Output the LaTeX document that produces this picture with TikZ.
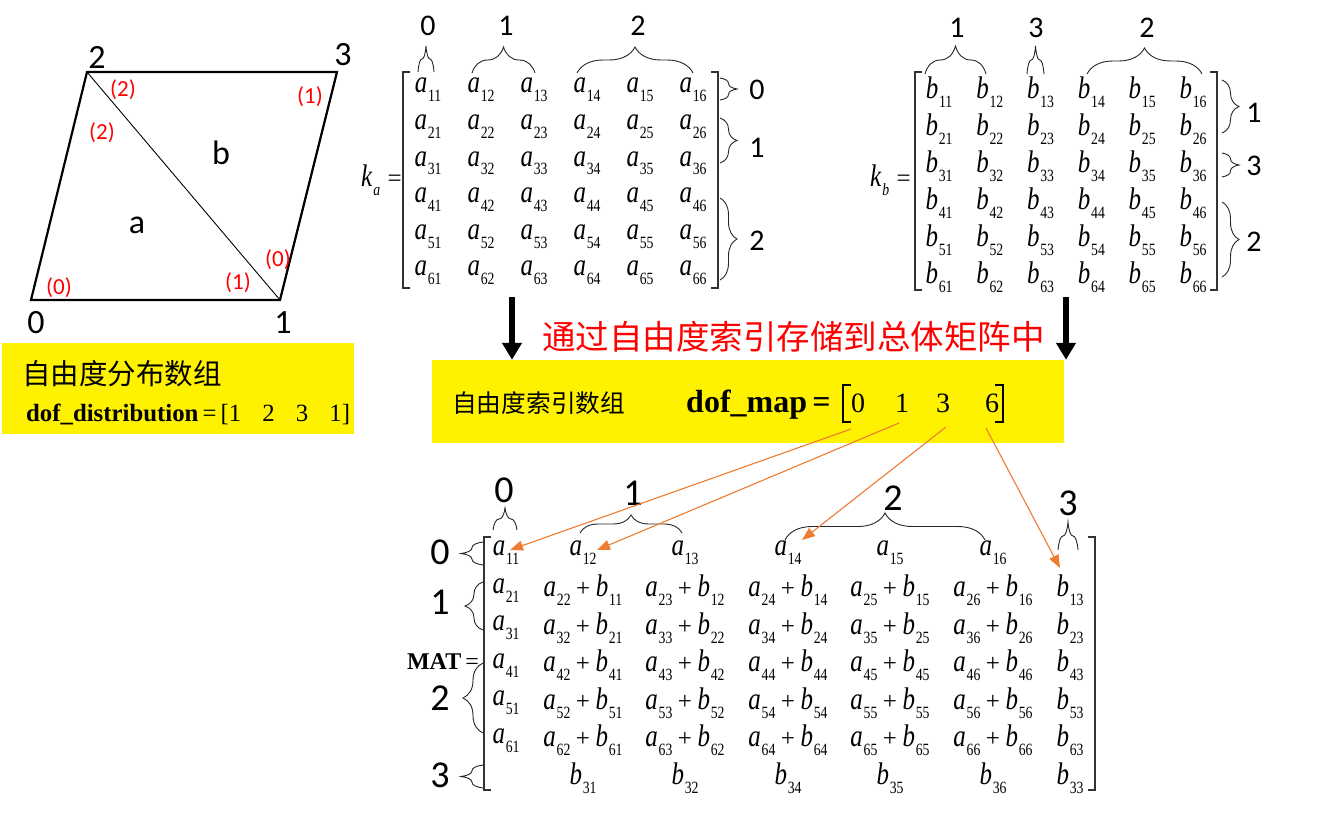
\documentclass[tikz,border=0pt]{standalone}
\usepackage{fontspec}
\setmainfont{Liberation Serif}
\newfontfamily\cjk{Noto Sans CJK SC}
\newfontfamily\calib{Carlito}
\usepackage{graphicx}
\usetikzlibrary{arrows.meta,decorations.pathreplacing,calc}
\definecolor{orng}{RGB}{237,125,49}
\newcommand{\el}[2]{\scalebox{1}[1.25]{\textit{#1}\kern0.03em\raisebox{-0.28em}{\scalebox{0.55}{#2}}}}
\newcommand{\es}[4]{\el{#1}{#2}\hspace{0.22em}+\hspace{0.22em}\el{#3}{#4}}

\begin{document}
\begin{tikzpicture}[x=1pt, y=-1pt,
edge/.style={line width=2.2pt, line join=miter},
diag/.style={line width=0.9pt},
vlbl/.style={font=\calib\fontsize{34}{36}\selectfont, inner sep=0},
rlbl/.style={font=\calib\fontsize{23}{26}\selectfont, text=red, inner sep=0},
klbl/.style={font=\calib\fontsize{30}{32}\selectfont, inner sep=0},
mlbl/.style={font=\calib\fontsize{38}{40}\selectfont, inner sep=0},
entry/.style={font=\fontsize{25}{30}\selectfont, inner sep=0},
mbrk/.style={line width=1.3pt, draw=black!80},
curly/.style={decorate, decoration={brace, amplitude=#1}, line width=0.9pt, draw=black!85},
ybox/.style={fill=yellow, inner sep=0},
bigarrow/.style={line width=6pt, -{Triangle[length=17pt,width=19pt]}},
oarr/.style={draw=orng, line width=1.1pt, -{Triangle[length=13pt,width=10pt]}, fill=orng},
]
\useasboundingbox (0,0) rectangle (1317,819);

\coordinate (p0) at (31,300);
\coordinate (p1) at (280,300);
\coordinate (p2) at (87,72);
\coordinate (p3) at (337,72);
\draw[edge] (p0) -- (p1) -- (p3) -- (p2) -- cycle;
\draw[diag] (p2) -- (p1);
\node[vlbl] (v0) at (36,323) {0};
\node[vlbl] (v1) at (283,323) {1};
\node[vlbl] (v2) at (97,57) {2};
\node[vlbl] (v3) at (343,55) {3};
\node[font=\calib\fontsize{34}{36}\selectfont, inner sep=0] (ela) at (137,225) {a};
\node[font=\calib\fontsize{34}{36}\selectfont, inner sep=0] (elb) at (221,153) {b};
\node[rlbl] (ra0) at (59,288) {(0)};
\node[rlbl] (ra1) at (238,283) {(1)};
\node[rlbl] (ra2) at (102,133) {(2)};
\node[rlbl] (rb0) at (278,260) {(0)};
\node[rlbl] (rb1) at (310,97) {(1)};
\node[rlbl] (rb2) at (123,90) {(2)};

\node[ybox, minimum width=352pt, minimum height=91pt] (distbox) at (178,388.5) {};
\node[anchor=west, inner sep=0, font=\cjk\fontsize{28.5}{30}\selectfont] (distcn) at (22,374) {自由度分布数组};
\node[anchor=base west, inner sep=0, font=\fontsize{24.8}{28}\selectfont] (distval) at (26,421)
  {\textbf{dof\_distribution}\,=\,[1\hspace{0.85em}2\hspace{0.85em}3\hspace{0.85em}1]};

\node[entry, anchor=east] (kalbl) at (402,180) {\el{k}{\textit{a}}\hspace{0.3em}=};
\foreach \ri in {1,...,6}
  \foreach \ci in {1,...,6}
    \node[entry] (a-\ri-\ci) at ({428+53*(\ci-1)},{90+36.6*(\ri-1)}) {\el{a}{\ri\ci}};
\draw[mbrk] (410,72) -- (403,72) -- (403,288) -- (410,288);
\draw[mbrk] (711,72) -- (718,72) -- (718,288) -- (711,288);
\draw[curly=26] (418,72) -- (434,72);
\draw[curly=26] (472,73) -- (535,73);
\draw[curly=26] (577,73) -- (693,73);
\node[klbl] (kat0) at (428,26) {0};
\node[klbl] (kat1) at (506,26) {1};
\node[klbl] (kat2) at (638,26) {2};
\draw[curly=17] (720,78) -- (720,100);
\draw[curly=17] (720,118) -- (720,163);
\draw[curly=17] (720,198) -- (720,280);
\node[klbl] (kar0) at (757,90) {0};
\node[klbl] (kar1) at (757,148) {1};
\node[klbl] (kar2) at (757,241) {2};

\node[entry, anchor=east] (kblbl) at (911,180) {\el{k}{\textit{b}}\hspace{0.3em}=};
\foreach \ri in {1,...,6}
  \foreach \ci in {1,...,6}
    \node[entry] (b-\ri-\ci) at ({939+50.8*(\ci-1)},{92+37*(\ri-1)}) {\el{b}{\ri\ci}};
\draw[mbrk] (922,72) -- (915,72) -- (915,290) -- (922,290);
\draw[mbrk] (1210,72) -- (1217,72) -- (1217,290) -- (1210,290);
\draw[curly=28] (925,74) -- (986,74);
\draw[curly=28] (1027,74) -- (1044,74);
\draw[curly=26] (1087,74) -- (1202,74);
\node[klbl] (kbt1) at (957,28) {1};
\node[klbl] (kbt3) at (1036,28) {3};
\node[klbl] (kbt2) at (1147,28) {2};
\draw[curly=17] (1222,80) -- (1222,133);
\draw[curly=17] (1222,153) -- (1222,177);
\draw[curly=17] (1222,202) -- (1222,277);
\node[klbl] (kbr1) at (1254,113) {1};
\node[klbl] (kbr3) at (1254,166) {3};
\node[klbl] (kbr2) at (1254,242) {2};

\node[font=\cjk\fontsize{33.5}{36}\selectfont, text=red, inner sep=0] (note) at (793.5,337) {通过自由度索引存储到总体矩阵中};
\node[ybox, minimum width=632pt, minimum height=83pt] (mapbox) at (748,401.5) {};
\coordinate (kaout) at (512,297);
\coordinate (kbout) at (1066,297);
\draw[bigarrow] (kaout) -- (kaout |- mapbox.north);
\draw[bigarrow] (kbout) -- (kbout |- mapbox.north);
\node[anchor=west, inner sep=0, font=\cjk\fontsize{24.7}{28}\selectfont] (mapcn) at (452,403) {自由度索引数组};
\node[anchor=base west, inner sep=0, font=\bfseries\fontsize{32}{36}\selectfont] (mapname) at (686,412) {dof\_map\,=};
\foreach \d/\x in {0/858,1/902,3/943,6/992}
  \node[anchor=base, inner sep=0, font=\fontsize{28}{30}\selectfont] (d\d) at (\x,412) {\d};
\draw[line width=1.8pt] (851,385) -- (843,385) -- (843,422) -- (851,422);
\draw[line width=1.8pt] (995,385) -- (1003,385) -- (1003,422) -- (995,422);

\node[anchor=east, inner sep=0, font=\fontsize{24}{28}\selectfont] (matlbl) at (479,662) {\textbf{MAT}\,=};
\foreach \ci/\x in {1/506,2/583,3/685,4/788,5/890,6/993}
  \node[entry] (m-1-\ci) at (\x,553) {\el{a}{1\ci}};
\foreach \ri/\br in {2/1,3/2,4/4,5/5,6/6} {
  \node[entry] (m-\ri-1) at (506,{553+37.5*(\ri-1)}) {\el{a}{\ri1}};
  \foreach \ci/\bc/\x in {2/1/583,3/2/685,4/4/788,5/5/890,6/6/993}
    \node[entry] (m-\ri-\ci) at (\x,{553+37.5*(\ri-1)}) {\es{a}{\ri\ci}{b}{\br\bc}};
  \node[entry] (m-\ri-7) at (1070,{553+37.5*(\ri-1)}) {\el{b}{\br3}};
}
\foreach \ci/\bc/\x in {2/1/583,3/2/685,4/4/788,5/5/890,6/6/993,7/3/1070}
  \node[entry] (m-7-\ci) at (\x,778) {\el{b}{3\bc}};
\draw[mbrk] (491,537) -- (484,537) -- (484,790) -- (491,790);
\draw[mbrk] (1088,537) -- (1095,537) -- (1095,790) -- (1088,790);
\draw[curly=22] (493,530) -- (517,530);
\draw[curly=18] (580,533) -- (682,533);
\draw[curly=27] (785,540) -- (985,540);
\draw[curly=28] (1058,550) -- (1078,550);
\node[mlbl] (mt0) at (504,490) {0};
\node[mlbl] (mt1) at (633,493) {1};
\node[mlbl] (mt2) at (893,498) {2};
\node[mlbl] (mt3) at (1068,503) {3};
\draw[curly=22] (483,565) -- (483,542);
\draw[curly=18] (483,630) -- (483,582);
\draw[curly=20] (483,733) -- (483,663);
\draw[curly=22] (483,788) -- (483,765);
\node[mlbl] (ml0) at (440,552) {0};
\node[mlbl] (ml1) at (440,602) {1};
\node[mlbl] (ml2) at (440,698) {2};
\node[mlbl] (ml3) at (440,775) {3};

\draw[oarr] ($(d0.base)+(-7,17)$) -- ($(m-1-1)+(4,-3)$);
\draw[oarr] ($(d1.base)+(-3,11)$) -- ($(m-1-2)+(14,-3)$);
\draw[oarr] ($(d3.base)+(3,15)$) -- ($(m-1-4)+(14,-13)$);
\draw[oarr] ($(d6.base)+(-6,16)$) -- ($(m-2-7)+(-10,-22.5)$);
\end{tikzpicture}
\end{document}
